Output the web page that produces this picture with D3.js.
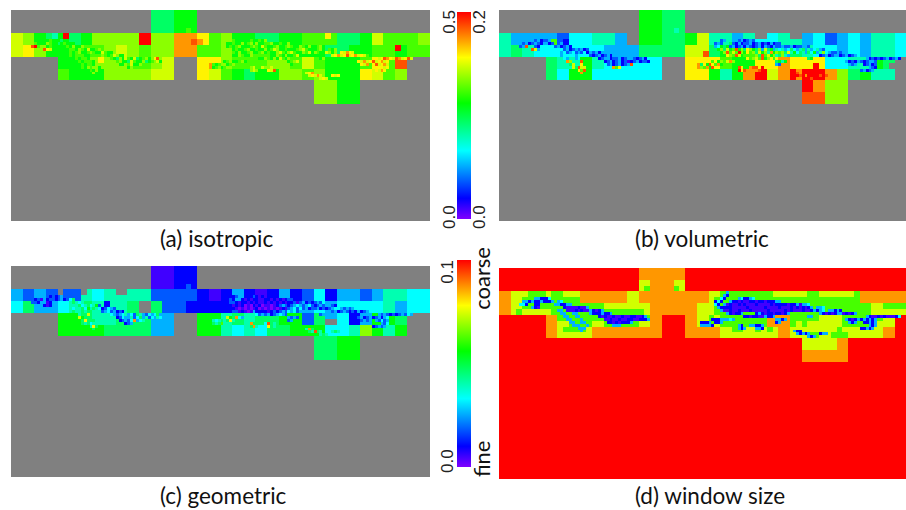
<!DOCTYPE html>
<html>
<head>
<meta charset="utf-8">
<script src="https://cdn.jsdelivr.net/npm/d3@7"></script>
<style>
  html, body { margin: 0; padding: 0; background: #fff; overflow: hidden; }
  svg { display: block; }
  .caption { font-family: Lato, sans-serif; font-size: 22.5px; fill: #111; }
  .ticklabel { font-family: "Liberation Sans", sans-serif; font-size: 17px; fill: #222; }
  .endlabel { font-family: Lato, sans-serif; font-size: 22px; fill: #111; }
</style>
</head>
<body>
<div id="chart"></div>
<script>
// level characters -> normalised value, x = no data (gray), . = not set at this depth
const levelChars = "0123456789abcdef";
const levelValues = [0, 0.05, 0.1, 0.18, 0.26, 0.33, 0.4, 0.47, 0.55, 0.62, 0.68, 0.74, 0.79, 0.87, 0.93, 1];

// groups are one coarse column wide, - is an empty group
const isoBase = [
  "- - - - - - 77 88",
  "- - - - - - 77 88",
  "ba 87 87 8a aa af aa dd c9 a8 87 78 89 99 77 8b 99 9a",
  "bc a8 89 99 ab a9 aa dd 99 a8 89 98 88 87 78 89 98 99",
  "- - 88 9a aa 99 ab - cc a9 99 aa 9b 98 88 9c 9e",
  "- - 98 88 aa aa bb - cb 98 78 8a a9 a8 88 cb 9a",
  "- - - - - - - - - - - - - aa 88",
  "- - - - - - - - - - - - - aa 88"
];
const isoMid = [
  "", "", "",
  "- - - - - - - ..9.",
  "- ..76 .f.. - - - - - - - - - - ..c.",
  "- - 6... - - - - ...e d...",
  "- - - - - - - - - - - - - - - - ..f8",
  "",
  "- - - ...c - - - - - - - - - - - - e...",
  "- - - - - - - - ..d."
];
const isoFine = [
  "",
  "",
  "- ....8988 87 - - - - - - ....98.. ..98898a",
  "- 9888a988 789.88.. - - - - - - ..889..a 89a8a889 9a88988a 8",
  ".......e f9..89.. ...98a88 a - - - - - ..89.9a8 889a98b9 889a889a 988a98a8 89a",
  "- ...ecb.. ......8a 98b889a. - - - - - ...a8988 9a88988a 89ba8898 889ab988 89a8.98a",
  "- - ....98.a 889a988b 988a - - - - ....98a8 89a889a8 988ab98a b988a9b8 a988ba8a .cbdcb",
  "- - .....89. .88....a 989ba88. - - - - ......a9 88a9 988a98a8 89b8 ......bc dbcebcdb cb9",
  "- - ......98 ..8a ..987a8b 98b789a8 ace - - - ....988a 98a8b98. - ..8a - ......bc edcbedbc eb",
  "- - .......9 8...8 ....9a88 7b988a78 9ab8 - - .89a889a 8 .......8 9ab - .......c bdbcebcd bc",
  "- - - 98..8a .....88a 9b88a9 - - .....989 a.89a - .......a 8 - - cbd..ebc db",
  "- - - .8a9..8. .......a 8a - - .....89a 89 ..ab..ba aba - - - .......c bc",
  "- - - ...98a - - - - - - ..aba cbe - - - ....bcbd c",
  "- - - ....a - - - - - - - - .....bcd",
  "- - - - - - - - - - - - ......bc bdb...cb c",
  "- - - - - - - - - - - - - ..bcb"
];

const volBase = [
  "- - - - - - 88 77",
  "- - - - - - 88 77",
  "64 44 43 55 66 4. 88 77 8b 66 46 .5 6. 45 34 54 66 55",
  "67 65 55 55 54 44 77 77 bb 78 89 87 87 65 54 54 66 55",
  "- - 76 68 65 55 55 - cc c9 88 cc dc cc 55 66 87",
  "- - 75 88 55 55 55 - cc 86 8d fb dd ff da 78 66",
  "- - - - - - - - - - - - - fd aa",
  "- - - - - - - - - - - - - ee aa"
];
const volMid = [
  "", "", "",
  "- - - - - - - ..6.",
  "",
  "- - 39.2 - - - - - - - - 55.. ..66",
  "",
  "- - - - - - - - ...e",
  "- - - - - - - - - - - - ..c.",
  "- - - ..b. - - - - ..dd - - - - ..f. - - ...x",
  "- - - - - - - - - - - - ..fd",
  "- - - - - - - - - - - - ..fd"
];
const volFine = [
  "",
  "",
  "- ....3423 34 - - - - - - ....34.. ..342343",
  "- 34234324 423.34.. - - - - - - ..343..7 32423342 34232423 3",
  ".......3 4e..32.. ...34234 2 - - - - - ..45.783 42342432 34243243 34334233 443",
  "- ...eb4.. ......34 2343423. - - - - - ...8a7b8 9e8a7ca8 7a4b7846 56457546 7464.643",
  "- - ....54.3 45343524 3424 - - - - ....8ae9 b9fa8c9a 7b8a6d8a 9a7b6857 6475846a .43343",
  "- - .....45. .54....3 2342342. - - - - ......ca 9eb8 a7e9b8a6 7a64 ......23 42344234 234",
  "- - ......54 ..45 ..234423 34234432 342 - - - ....8c9a b9e8ac9. - ..78 - ......42 32323423 42",
  "- - .......d a...e ....2342 34231234 2332 - - .9c8a9bd a .......7 868 - .......4 23243234 43",
  "- - - 7b..c8 .....342 34234e - - .....7c8 e.9d8 - .......4 3 - - 434..234 23",
  "- - - .b7e..8. .......d 9c - - .....a9d 8e ..ec..de ecf - - - .......4 32",
  "- - - ...c9e - - - - - - ..fce def - - - ....3423 4",
  "- - - ....d - - - - - - - - .....fed",
  "- - - - - - - - - - - - ......fe fdf...ef e",
  "- - - - - - - - - - - - - ..fef"
];

const geoBase = [
  "- - - - - - 11 22",
  "- - - - - - 11 22",
  "43 43 33 65 66 66 33 33 21 24 21 24 23 52 44 34 66 55",
  "57 44 56 76 66 7. 73 32 22 23 12 23 24 54 55 55 64 55",
  "- - 88 76 67 77 44 - 88 67 67 78 83 74 53 48 87",
  "- - 88 88 77 77 44 - 88 65 65 77 88 85 56 a8 68",
  "- - - - - - - - - - - - - 77 88",
  "- - - - - - - - - - - - - 77 88"
];
const geoMid = [
  "", "", "",
  "- - - - - - - ..3.",
  "- - x... x.. ..xx",
  "- - - ..55",
  "- - - - 2",
  "",
  "- - - - - - - - - - - - - - ..22",
  "- - - - - - - - - - - - - ..xx ..22"
];
const geoFine = [
  "",
  "",
  "- ....3232 34 - - - - - - ....23.. ..232121",
  "- 23142332 342.57.. - - - - - - ..232..2 12122112 21212123 3",
  ".......3 32..12.. ...56765 6 - - - - - ..23.212 21212112 12121212 23134232 343",
  "- ...212.. ......67 5675683. - - - - - ...21212 01021201 10123432 34543453 2343.432",
  "- - ....65.6 75867652 3543 - - - - ....2101 01012010 10101213 45353423 34232345 .43434",
  "- - .....76. .67....3 4534232. - - - - ......12 1014 12323435 4534 ......34 23432324 234",
  "- - ......86 ..b7 ..543456 45376435 457 - - - ....5343 4234543. - ..34 - ......43 43232343 54",
  "- - .......b 8...6 ....2354 46357463 5465 - - .6b87d54 6 .......4 343 - .......3 42342342 45",
  "- - - 7c..76 .....234 35d456 - - .....656 7.7c6 - .......3 4 - - 343..435 34",
  "- - - .675..6. .......2 34 - - .....767 96 ..d7..75 e76 - - - .......4 35",
  "- - - ...6c7 - - - - - - ..7d6 c76 - - - ....2343 4",
  "- - - ....7 - - - - - - - - .....6d7",
  "- - - - - - - - - - - - ......76 e76...67 6",
  "- - - - - - - - - - - - - ..676"
];

const winBase = [
  "- - - - - - dd dd",
  "- - - - - - bd db",
  "", "", "", "",
  "- - - - - - - - - - - - - bb bd",
  "- - - - - - - - - - - - - dd dd"
];
const winMid = [
  "", "", "",
  "- - - - - - .9.. ..9.",
  "ddbb b999 b99b bbdd dddd ddbb dddd dddd dddd bb99 9999 999b bbbb b99b bbbb b9dd dddd dddd",
  "ddbb 9999 9999 99dd dddd ddbb dddd dddd dddd b999 9999 9999 9999 9999 9999 99dd dddd dddd",
  "ddbb 9999 9999 9999 99bb bbbb bbdd dddd ddbb b999 9999 9999 9999 9999 9999 9999 bb99 999b",
  "ddb9 bbbb b999 9999 9999 9999 9bdd dddd ddbb b999 9999 9999 9999 9999 9999 9999 bbbb bb99",
  "ffff ffff dd99 9999 9999 9999 99dd ffff ddbb 9b99 9999 99dd dd99 999b bbb9 9999 99bb ffff",
  "ffff ffff ddbb 9999 bb99 9999 bbdd ffff ddbb 9b99 9999 99dd dd9b 9bbb bbb9 9999 bbbb ffff",
  "ffff ffff ddb9 999b dddd dddd dddd ffff dddd ddbb 99bb 9b9b ddbb bbbb bb9b bbbb bbdd ffff",
  "ffff ffff ddbb bbbb dddd dddd dddd ffff dddd ddbb bbbb bbbb ddbb b99b b999 bbbb bbdd ffff"
];
const winFine = [
  "- - - - - - - - - ......4.",
  "- - - - - - - - - .....42.",
  "- ....4422 25 - - - - - - ....52.. ..452245",
  "- 44242242 224.45.. - - - - - - ..252..4 22121122 12212224 4",
  ".......5 52..22.. ...44224 4 - - - - - ..52.412 11212111 21111212 22212241 445",
  "- ...421.. ......21 1112114. - - - - - ...42222 11111211 11121111 21112121 2124.445",
  "- - ....44.1 11212114 2124 - - - - ....4112 11211121 11112111 11212111 21124245 .44242",
  "- - .....44. .44....4 2224224. - - - - ......42 1224 24212212 2124 ......42 12124412 124",
  "- - ......44 ..44 ..212112 11211221 124 - - - ....2212 2114224. - ..44 - ......42 11212111 25",
  "- - .......4 4...4 ....1121 12112211 2224 - - .2224445 4 .......4 424 - .......4 21242424 24",
  "- - - 44..44 .....221 212224 - - .....222 4.224 - .......2 4 - - 424..224 24",
  "- - - .444..4. .......4 44 - - .....444 42 ..42..44 224 - - - .......4 24",
  "- - - ...444 - - - - - - ..424 442 - - - ....2242 4",
  "- - - ....4 - - - - - - - - .....422",
  "- - - - - - - - - - - - ......42 424...24 4",
  "- - - - - - - - - - - - - ..424"
];

const captions = ["(a) isotropic", "(b) volumetric", "(c) geometric", "(d) window size"];
const topTicks = [["0.5", "0.0"], ["0.2", "0.0"]];
const bottomTicks = ["0.1", "0.0"];
const bottomEnds = ["coarse", "fine"];

const width = 906;
const height = 510;
const panelW = 419;
const panelH = 211;
const coarseCols = 18;
const coarseRows = 9;
const grayColor = "#808080";

const rainbow = d3.scaleLinear()
    .domain([0, 0.1, 0.33, 0.56, 0.78, 1])
    .range(["#8000ff", "#0000ff", "#00ffff", "#00ff00", "#ffff00", "#ff0000"]);

function cellColor(ch) {
    if (ch === "x") return grayColor;
    return rainbow(levelValues[levelChars.indexOf(ch)]);
}

// turn grouped rows into [col, row, level] cells, skipping unset ones
function parseRows(rows, groupSize, rowOffset) {
    const cells = [];
    rows.forEach(function(row, r) {
        const text = row.split(" ").map(function(g) {
            return g === "-" ? "".padEnd(groupSize, ".") : g.padEnd(groupSize, ".");
        }).join("");
        text.split("").forEach(function(ch, c) {
            if (ch !== ".") cells.push({col: c, row: r + rowOffset, ch: ch});
        });
    });
    return cells;
}

const svg = d3.select("#chart").append("svg")
    .attr("width", width)
    .attr("height", height);

function drawLayer(g, cells, depth) {
    const x = d3.scaleBand().domain(d3.range(coarseCols * depth)).range([0, panelW]);
    const y = d3.scaleBand().domain(d3.range(coarseRows * depth)).range([0, panelH]);
    g.append("g").selectAll("rect").data(cells).enter()
        .append("rect")
        .attr("x", function(d) { return x(d.col); })
        .attr("y", function(d) { return y(d.row); })
        .attr("width", x.bandwidth())
        .attr("height", y.bandwidth())
        .attr("fill", function(d) { return cellColor(d.ch); })
        .attr("shape-rendering", "crispEdges");
}

function drawPanel(px, py, background, base, mid, fine) {
    const g = svg.append("g").attr("transform", "translate(" + px + "," + py + ")");
    g.append("rect")
        .attr("width", panelW)
        .attr("height", panelH)
        .attr("fill", cellColor(background));
    drawLayer(g, parseRows(base, 2, 0), 2);
    drawLayer(g, parseRows(mid, 4, 0), 4);
    drawLayer(g, parseRows(fine, 8, 8), 8);
}

drawPanel(11, 10, "x", isoBase, isoMid, isoFine);
drawPanel(499, 10, "x", volBase, volMid, volFine);
drawPanel(11, 266, "x", geoBase, geoMid, geoFine);
drawPanel(499, 268, "f", winBase, winMid, winFine);

// captions
const capPos = [[160, 247], [635, 247], [160, 504], [635, 504]];
svg.selectAll("text.caption").data(captions).enter()
    .append("text")
    .attr("class", "caption")
    .attr("x", function(d, i) { return capPos[i][0]; })
    .attr("y", function(d, i) { return capPos[i][1]; })
    .text(function(d) { return d; });

// colour bars
const grad = svg.append("defs").append("linearGradient")
    .attr("id", "rainbow")
    .attr("x1", 0).attr("y1", 1).attr("x2", 0).attr("y2", 0);
grad.selectAll("stop").data(rainbow.domain()).enter()
    .append("stop")
    .attr("offset", function(d) { return d; })
    .attr("stop-color", function(d) { return rainbow(d); });

svg.append("rect").attr("x", 457).attr("y", 12).attr("width", 14).attr("height", 207).attr("fill", "url(#rainbow)");
svg.append("rect").attr("x", 457).attr("y", 260).attr("width", 14).attr("height", 207).attr("fill", "url(#rainbow)");

function vertical(cls, x, y, anchor, label) {
    svg.append("text")
        .attr("class", cls)
        .attr("transform", "translate(" + x + "," + y + ") rotate(-90)")
        .attr("text-anchor", anchor)
        .text(label);
}

vertical("ticklabel", 455, 10, "end", topTicks[0][0]);
vertical("ticklabel", 455, 229, "start", topTicks[0][1]);
vertical("ticklabel", 485, 10, "end", topTicks[1][0]);
vertical("ticklabel", 485, 229, "start", topTicks[1][1]);
vertical("ticklabel", 453, 260, "end", bottomTicks[0]);
vertical("ticklabel", 453, 473, "start", bottomTicks[1]);
vertical("endlabel", 490, 247, "end", bottomEnds[0]);
vertical("endlabel", 490, 477, "start", bottomEnds[1]);
</script>
</body>
</html>
